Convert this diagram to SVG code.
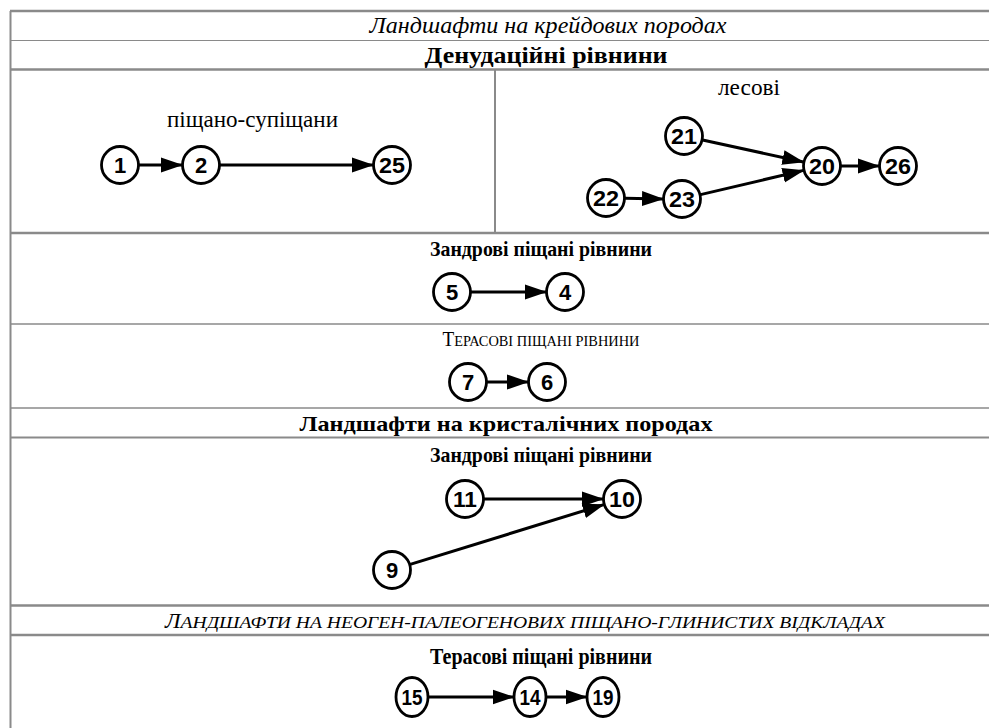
<svg xmlns="http://www.w3.org/2000/svg" width="989" height="728" viewBox="0 0 989 728">
<defs>
<marker id="ah" markerWidth="22" markerHeight="16" refX="21" refY="8" orient="auto" markerUnits="userSpaceOnUse"><path d="M0,0.5 L22,8 L0,15.5 z" fill="#000"/></marker>
<style>
.grid{stroke:#8a8a8a;fill:none}
.nd{fill:#fff;stroke:#000;stroke-width:2.8}
.num{font-family:"Liberation Sans",Arial,sans-serif;font-weight:bold;font-size:22px;text-anchor:middle;fill:#000}
.cn{stroke:#000;stroke-width:3;fill:none;marker-end:url(#ah)}
.hd{font-family:"Liberation Serif","Times New Roman",serif;fill:#000;text-anchor:middle}
.b{font-weight:bold}
.i{font-style:italic}
</style>
</defs>
<rect width="989" height="728" fill="#fff"/>
<g id="table">
<line class="grid" x1="10.5" y1="11" x2="10.5" y2="728" stroke-width="2"/>
<line class="grid" x1="10" y1="11" x2="989" y2="11" stroke-width="2.5"/>
<line class="grid" x1="10" y1="40.5" x2="989" y2="40.5" stroke-width="1.2"/>
<line class="grid" x1="10" y1="69.5" x2="989" y2="69.5" stroke-width="2.5" stroke="#777"/>
<line class="grid" x1="495" y1="69.5" x2="495" y2="233" stroke-width="2"/>
<line class="grid" x1="10" y1="233" x2="989" y2="233" stroke-width="2.5" stroke="#777"/>
<line class="grid" x1="10" y1="324" x2="989" y2="324" stroke-width="1.5"/>
<line class="grid" x1="10" y1="408" x2="989" y2="408" stroke-width="1.5"/>
<line class="grid" x1="10" y1="437.5" x2="989" y2="437.5" stroke-width="2"/>
<line class="grid" x1="10" y1="605.5" x2="989" y2="605.5" stroke-width="2.5"/>
<line class="grid" x1="10" y1="635" x2="989" y2="635" stroke-width="2.5" stroke="#555"/>
</g>
<g id="labels">
<text class="hd i" x="548" y="33" font-size="24" textLength="357" lengthAdjust="spacingAndGlyphs">Ландшафти на крейдових породах</text>
<text class="hd b" x="546" y="63" font-size="24" textLength="243" lengthAdjust="spacingAndGlyphs">Денудаційні рівнини</text>
<text class="hd" x="252.5" y="127" font-size="23" textLength="171" lengthAdjust="spacingAndGlyphs">піщано-супіщани</text>
<text class="hd" x="749" y="95" font-size="23" textLength="62" lengthAdjust="spacingAndGlyphs">лесові</text>
<text class="hd b" x="541" y="256" font-size="22" textLength="222" lengthAdjust="spacingAndGlyphs">Зандрові піщані рівнини</text>
<text class="hd" x="541" y="346" font-size="20" textLength="197" lengthAdjust="spacingAndGlyphs">Т<tspan font-size="15">ЕРАСОВІ ПІЩАНІ РІВНИНИ</tspan></text>
<text class="hd b" x="506" y="431" font-size="22" textLength="413" lengthAdjust="spacingAndGlyphs">Ландшафти на кристалічних породах</text>
<text class="hd b" x="541" y="462" font-size="22" textLength="222" lengthAdjust="spacingAndGlyphs">Зандрові піщані рівнини</text>
<text class="hd i" x="525" y="628" font-size="20" textLength="720" lengthAdjust="spacingAndGlyphs">Л<tspan font-size="17">АНДШАФТИ НА НЕОГЕН-ПАЛЕОГЕНОВИХ ПІЩАНО-ГЛИНИСТИХ ВІДКЛАДАХ</tspan></text>
<text class="hd b" x="541" y="664" font-size="23" textLength="222" lengthAdjust="spacingAndGlyphs">Терасові піщані рівнини</text>
</g>
<g id="connectors">
<line class="cn" x1="139" y1="165" x2="182" y2="165"/>
<line class="cn" x1="220" y1="165" x2="373" y2="165"/>
<line class="cn" x1="702.6" y1="140" x2="803.4" y2="162"/>
<line class="cn" x1="700.5" y1="194.6" x2="803.5" y2="170.4"/>
<line class="cn" x1="625" y1="198.3" x2="663" y2="199"/>
<line class="cn" x1="841" y1="166" x2="879" y2="166"/>
<line class="cn" x1="471" y1="292" x2="546" y2="292"/>
<line class="cn" x1="487" y1="382" x2="528" y2="382"/>
<line class="cn" x1="484" y1="499" x2="603" y2="499"/>
<line class="cn" x1="410.2" y1="564.4" x2="603.8" y2="504.6"/>
<line class="cn" x1="428.5" y1="697" x2="513.5" y2="697"/>
<line class="cn" x1="546.5" y1="697" x2="586.5" y2="697"/>
</g>
<g id="n1"><circle class="nd" cx="120" cy="165" r="18.5"/><text class="num" x="120" y="173">1</text></g>
<g id="n2"><circle class="nd" cx="201" cy="165" r="18.5"/><text class="num" x="201" y="173">2</text></g>
<g id="n25"><circle class="nd" cx="392" cy="165" r="18.5"/><text class="num" x="392" y="173" textLength="26" lengthAdjust="spacingAndGlyphs">25</text></g>
<g id="n21"><circle class="nd" cx="684" cy="136" r="18.5"/><text class="num" x="684" y="144" textLength="26" lengthAdjust="spacingAndGlyphs">21</text></g>
<g id="n20"><circle class="nd" cx="822" cy="166" r="18.5"/><text class="num" x="822" y="174" textLength="26" lengthAdjust="spacingAndGlyphs">20</text></g>
<g id="n26"><circle class="nd" cx="898" cy="166" r="18.5"/><text class="num" x="898" y="174" textLength="26" lengthAdjust="spacingAndGlyphs">26</text></g>
<g id="n22"><circle class="nd" cx="606" cy="198" r="18.5"/><text class="num" x="606" y="206" textLength="26" lengthAdjust="spacingAndGlyphs">22</text></g>
<g id="n23"><circle class="nd" cx="682" cy="199" r="18.5"/><text class="num" x="682" y="207" textLength="26" lengthAdjust="spacingAndGlyphs">23</text></g>
<g id="n5"><circle class="nd" cx="452" cy="292" r="18.5"/><text class="num" x="452" y="300">5</text></g>
<g id="n4"><circle class="nd" cx="565" cy="292" r="18.5"/><text class="num" x="565" y="300">4</text></g>
<g id="n7"><circle class="nd" cx="468" cy="382" r="18.5"/><text class="num" x="468" y="390">7</text></g>
<g id="n6"><circle class="nd" cx="547" cy="382" r="18.5"/><text class="num" x="547" y="390">6</text></g>
<g id="n11"><circle class="nd" cx="465" cy="499" r="18.5"/><text class="num" x="465" y="507" textLength="24" lengthAdjust="spacingAndGlyphs">11</text></g>
<g id="n10"><circle class="nd" cx="622" cy="499" r="18.5"/><text class="num" x="622" y="507" textLength="26" lengthAdjust="spacingAndGlyphs">10</text></g>
<g id="n9"><circle class="nd" cx="392" cy="570" r="18.5"/><text class="num" x="392" y="578">9</text></g>
<g id="n15"><ellipse class="nd" cx="412" cy="697" rx="16" ry="19.5"/><text class="num" x="412" y="705" textLength="21" lengthAdjust="spacingAndGlyphs">15</text></g>
<g id="n14"><ellipse class="nd" cx="530" cy="697" rx="16" ry="19.5"/><text class="num" x="530" y="705" textLength="21" lengthAdjust="spacingAndGlyphs">14</text></g>
<g id="n19"><ellipse class="nd" cx="603" cy="697" rx="16" ry="19.5"/><text class="num" x="603" y="705" textLength="21" lengthAdjust="spacingAndGlyphs">19</text></g>
</svg>
